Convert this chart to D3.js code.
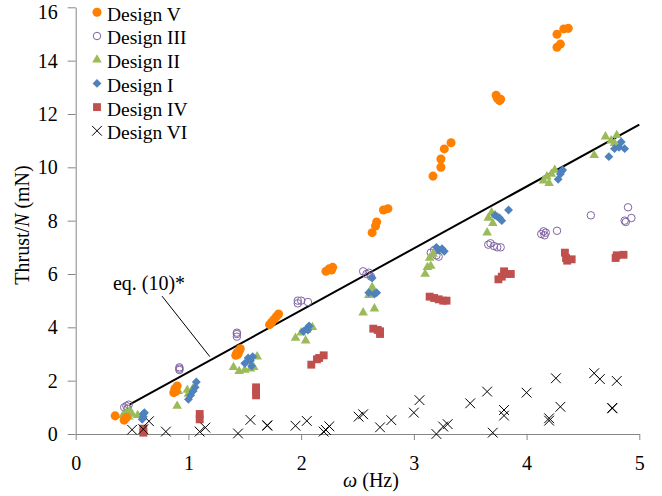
<html>
<head>
<meta charset="utf-8">
<style>
  body { margin: 0; background: #fff; }
</style>
</head>
<body>
<script src="https://cdn.jsdelivr.net/npm/d3@7/dist/d3.min.js"></script>
<script>
// readings [omega (Hz), thrust/N (mN)]
var designV = [[0.35,0.68],[0.43,0.52],[0.45,0.62],[0.87,1.55],[0.88,1.7],[0.9,1.8],[0.89,1.6],
  [1.42,2.95],[1.43,3.05],[1.45,3.1],[1.46,3.2],[1.44,3.0],
  [1.72,4.1],[1.74,4.2],[1.76,4.3],[1.78,4.4],[1.8,4.5],
  [2.22,6.1],[2.25,6.2],[2.28,6.25],[2.27,6.15],
  [2.63,7.55],[2.66,7.8],[2.67,7.95],[2.73,8.4],[2.77,8.45],
  [3.17,9.67],[3.24,10.0],[3.24,10.31],[3.27,10.69],[3.33,10.92],
  [3.73,12.7],[3.74,12.6],[3.76,12.5],[3.77,12.55],
  [4.27,14.5],[4.3,14.62],[4.27,14.99],[4.33,15.19],[4.37,15.21]];
var designIII = [[0.43,1.0],[0.45,1.05],[0.47,1.1],[0.46,0.95],
  [0.92,2.4],[0.92,2.5],[0.92,2.45],
  [1.43,3.65],[1.43,3.75],[1.43,3.8],
  [1.97,4.9],[1.97,5.0],[2.0,5.0],[2.06,4.95],
  [2.55,6.1],[2.58,6.0],[2.6,6.05],[2.62,5.9],
  [3.15,6.8],[3.18,6.9],[3.22,6.65],[3.2,6.7],
  [3.66,7.1],[3.68,7.15],[3.71,7.05],[3.74,7.0],[3.77,7.0],
  [4.13,7.5],[4.15,7.6],[4.16,7.45],[4.17,7.55],[4.27,7.62],
  [4.57,8.2],[4.87,8.0],[4.88,7.95],[4.93,8.1],[4.9,8.5]];
var designII = [[0.42,0.7],[0.45,0.8],[0.48,0.85],[0.5,0.75],[0.55,0.7],[0.47,0.65],
  [0.9,1.05],[0.91,1.6],[0.99,1.65],[1.0,1.5],[1.04,1.7],
  [1.4,2.5],[1.45,2.35],[1.5,2.4],[1.55,2.45],[1.58,2.5],[1.61,2.9],
  [1.95,3.6],[2.0,3.8],[2.04,3.5],[2.05,3.9],[2.1,4.0],
  [2.55,4.55],[2.6,5.2],[2.63,5.5],[2.65,4.7],[2.62,5.35],
  [3.1,6.0],[3.12,6.25],[3.15,6.3],[3.14,6.6],[3.17,6.75],
  [3.65,7.55],[3.66,8.1],[3.69,8.3],[3.7,7.9],[3.72,8.2],
  [4.15,9.5],[4.18,9.65],[4.2,9.4],[4.22,9.75],[4.25,9.9],
  [4.6,10.45],[4.7,11.15],[4.75,11.0],[4.8,11.2],[4.78,10.9]];
var designI = [[0.59,0.55],[0.6,0.65],[0.6,0.75],[0.61,0.8],
  [1.0,1.3],[1.02,1.45],[1.04,1.6],[1.06,1.75],[1.07,1.95],
  [1.5,2.65],[1.53,2.85],[1.55,2.75],[1.56,2.55],[1.57,2.9],
  [2.02,3.85],[2.05,3.95],[2.07,4.05],[2.06,3.9],
  [2.6,5.3],[2.63,5.85],[2.65,5.25],[2.67,5.3],
  [3.2,7.0],[3.22,6.9],[3.25,6.95],[3.27,6.85],
  [3.72,8.2],[3.74,8.15],[3.76,8.1],[3.78,8.0],[3.84,8.4],
  [4.28,9.55],[4.3,9.75],[4.31,9.85],[4.32,9.9],
  [4.73,10.4],[4.78,10.7],[4.82,10.75],[4.84,10.95],[4.87,10.7]];
var designIV = [[0.6,0.05],[0.6,0.2],[1.1,0.55],[1.1,0.75],
  [1.6,1.45],[1.6,1.6],[1.6,1.75],
  [2.09,2.6],[2.14,2.8],[2.16,2.85],[2.2,2.95],
  [2.64,3.95],[2.68,3.9],[2.7,3.75],[2.7,3.85],
  [3.14,5.15],[3.18,5.1],[3.22,5.05],[3.26,5.0],[3.29,5.0],
  [3.75,5.8],[3.78,5.9],[3.8,6.1],[3.82,6.0],[3.86,6.0],
  [4.34,6.8],[4.35,6.6],[4.36,6.5],[4.4,6.55],
  [4.79,6.6],[4.8,6.7],[4.86,6.72]];
var designVI = [[0.5,0.16],[0.6,0.18],[0.65,0.48],[0.8,0.09],[1.1,0.09],[1.15,0.24],
  [1.44,0.02],[1.55,0.53],[1.7,0.31],[1.7,0.33],[1.95,0.31],[2.05,0.49],[2.2,0.09],[2.22,0.15],[2.25,0.29],
  [2.51,0.65],[2.55,0.74],[2.7,0.25],[2.8,0.52],[3.0,0.8],[3.05,1.27],
  [3.2,0.0],[3.26,0.28],[3.3,0.37],[3.5,1.15],[3.65,1.59],[3.7,0.05],[3.8,0.9],[3.8,0.69],
  [4.0,1.55],[4.2,0.59],[4.2,0.5],[4.26,2.09],[4.3,1.02],[4.6,2.28],[4.65,2.06],[4.8,1.99],[4.76,0.96],[4.76,0.98]];
var eqLine = [[0.48,1.11],[5,11.6]];
var xTicks = [0,1,2,3,4,5];
var yTicks = [0,2,4,6,8,10,12,14,16];

var width = 662, height = 496;
var margin = {left:75.7, top:7.3, right:22.7, bottom:62};
var w = width - margin.left - margin.right;
var h = height - margin.top - margin.bottom;
var font = '"Liberation Serif", "Times New Roman", serif';

var svg = d3.select('body').append('svg')
  .attr('width', width).attr('height', height)
  .attr('font-family', font);
var g = svg.append('g').attr('transform','translate(' + margin.left + ',' + margin.top + ')');

var x = d3.scaleLinear().domain([0,5]).range([0,w]);
var y = d3.scaleLinear().domain([0,16]).range([h,0]);

var axisColor = '#868686';

// y axis
var yAxis = g.append('g').call(d3.axisLeft(y).tickValues(yTicks).tickFormat(d3.format('d')).tickSize(8).tickPadding(10));
yAxis.attr('font-family', font);
yAxis.selectAll('text').attr('font-size',20).attr('fill','#000')
  .attr('dy', function(d){ return d === 16 ? '0.55em' : '0.32em'; });
// x axis
var xAxis = g.append('g').attr('transform','translate(0,' + h + ')')
  .call(d3.axisBottom(x).tickValues(xTicks).tickFormat(d3.format('d')).tickSize(6));
xAxis.attr('font-family', font);
xAxis.selectAll('text').attr('font-size',20).attr('fill','#000').attr('y',36).attr('dy',0);
g.selectAll('.domain').attr('stroke',axisColor);
xAxis.select('.domain').attr('d','M0.5,0.5H' + (w + 0.5));
yAxis.select('.domain').attr('d','M0.5,0.5V' + (h + 0.5));
g.selectAll('.tick line').attr('stroke',axisColor);

// axis titles
svg.append('text').attr('x', 371).attr('y', 487).attr('text-anchor','middle').attr('font-size',20)
  .html('<tspan font-style="italic">ω</tspan> (Hz)');
svg.append('text').attr('transform','translate(29,225) rotate(-90)').attr('text-anchor','middle').attr('font-size',20)
  .html('Thrust/<tspan font-style="italic">N</tspan> (mN)');

// eq. (10)* line
var line = d3.line().x(function(d){ return x(d[0]); }).y(function(d){ return y(d[1]); });
g.append('path').datum(eqLine).attr('d', line).attr('stroke','#000').attr('stroke-width',2).attr('fill','none');

var series = [
  {name:'Design V', data:designV, type:d3.symbolCircle, size:64, fill:'#FF7F00', stroke:'none'},
  {name:'Design III', data:designIII, type:d3.symbolCircle, size:44, fill:'none', stroke:'#8064A2'},
  {name:'Design II', data:designII, type:d3.symbolTriangle, size:40, fill:'#9BBB59', stroke:'none'},
  {name:'Design I', data:designI, type:d3.symbolDiamond2, size:50, fill:'#4F81BD', stroke:'none'},
  {name:'Design IV', data:designIV, type:d3.symbolSquare, size:62, fill:'#C0504D', stroke:'none'},
  {name:'Design VI', data:designVI, type:d3.symbolTimes, size:64, fill:'none', stroke:'#000'}
];

// draw order: IV, VI, III, II, I, V
var order = [4,5,1,2,3,0];
order.forEach(function(k){
  var s = series[k];
  g.append('g').selectAll('path').data(s.data).enter().append('path')
    .attr('transform', function(d){ return 'translate(' + x(d[0]) + ',' + y(d[1]) + ')'; })
    .attr('d', d3.symbol().type(s.type).size(s.size))
    .attr('fill', s.fill).attr('stroke', s.stroke).attr('stroke-width', 1);
});

// annotation
var ann = g.append('g');
ann.append('line').attr('x1', x(0.766)).attr('y1', y(5.17)).attr('x2', x(1.19)).attr('y2', y(2.9))
  .attr('stroke','#000').attr('stroke-width',1);
ann.append('text').attr('x', x(0.33)).attr('y', y(5.4)).attr('font-size',20).text('eq. (10)*');

// legend
var legend = svg.append('g').attr('transform','translate(97,12.3)');
series.forEach(function(s, i){
  var row = legend.append('g').attr('transform','translate(0,' + (i * 23.7) + ')');
  row.append('path').attr('d', d3.symbol().type(s.type).size(s.size))
    .attr('fill', s.fill).attr('stroke', s.stroke).attr('stroke-width', 1);
  row.append('text').attr('x', 10).attr('y', 8.4).attr('font-size', 19.5).text(s.name);
});
</script>
</body>
</html>
